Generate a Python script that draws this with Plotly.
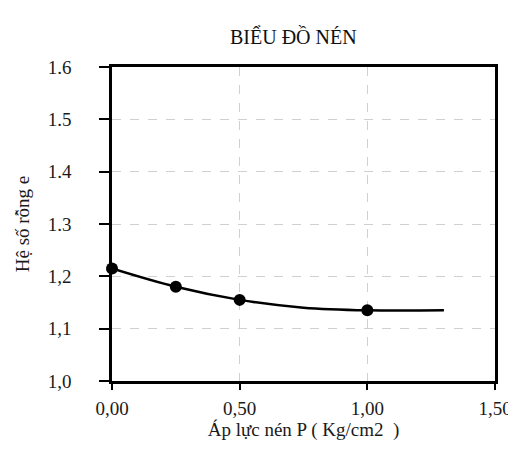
import plotly.graph_objects as go

# Data
pressure = [0.0, 0.25, 0.5, 1.0]
void_ratio = [1.215, 1.18, 1.155, 1.135]
curve_x = [0.0, 0.25, 0.5, 0.75, 1.0, 1.3]
curve_y = [1.215, 1.18, 1.155, 1.14, 1.135, 1.135]
x_tickvals = [0.0, 0.5, 1.0, 1.5]
x_ticktext = ["0,00", "0,50", "1,00", "1,50"]
y_tickvals = [1.0, 1.1, 1.2, 1.3, 1.4, 1.5, 1.6]
y_ticktext = ["1,0", "1,1", "1,2", "1.3", "1.4", "1.5", "1.6"]

font_family = "Liberation Serif, Times New Roman, serif"

fig = go.Figure()
fig.add_trace(go.Scatter(x=curve_x, y=curve_y, mode="lines",
                         line=dict(color="black", width=2.5, shape="spline"),
                         hoverinfo="skip", showlegend=False))
fig.add_trace(go.Scatter(x=pressure, y=void_ratio, mode="markers",
                         marker=dict(color="black", size=12),
                         showlegend=False, cliponaxis=False))

fig.update_layout(
    width=516, height=461,
    margin=dict(l=103, r=26, t=59, b=88),
    paper_bgcolor="white", plot_bgcolor="white",
    font=dict(family=font_family, color="#1a1a1a", size=19),
    title=dict(text="BIỂU ĐỒ NÉN", x=0.553, xanchor="center", y=0.937, yanchor="middle",
               font=dict(size=20, family=font_family, color="#111")),
    showlegend=False,
)
fig.update_xaxes(
    range=[0, 1.5], tickvals=x_tickvals, ticktext=x_ticktext,
    showline=True, mirror=True, linecolor="black", linewidth=2.5,
    ticks="outside", ticklen=6, tickwidth=2, tickcolor="black",
    ticklabelstandoff=2,
    showgrid=True, gridcolor="#d0d0d0", griddash="dash", gridwidth=1,
    zeroline=False,
    tickfont=dict(size=19),
    title=dict(text="Áp lực nén P ( Kg/cm2  )", standoff=4,
               font=dict(size=19, family=font_family)),
)
fig.update_yaxes(
    range=[1.0, 1.6], tickvals=y_tickvals, ticktext=y_ticktext,
    showline=True, mirror=True, linecolor="black", linewidth=2.5,
    ticks="outside", ticklen=10, tickwidth=2, tickcolor="black",
    ticklabelstandoff=24,
    showgrid=True, gridcolor="#d0d0d0", griddash="dash", gridwidth=1,
    zeroline=False,
    tickfont=dict(size=19),
    title=dict(text="Hệ số rỗng e", standoff=14,
               font=dict(size=19, family=font_family)),
)

fig.write_html("out.html")
